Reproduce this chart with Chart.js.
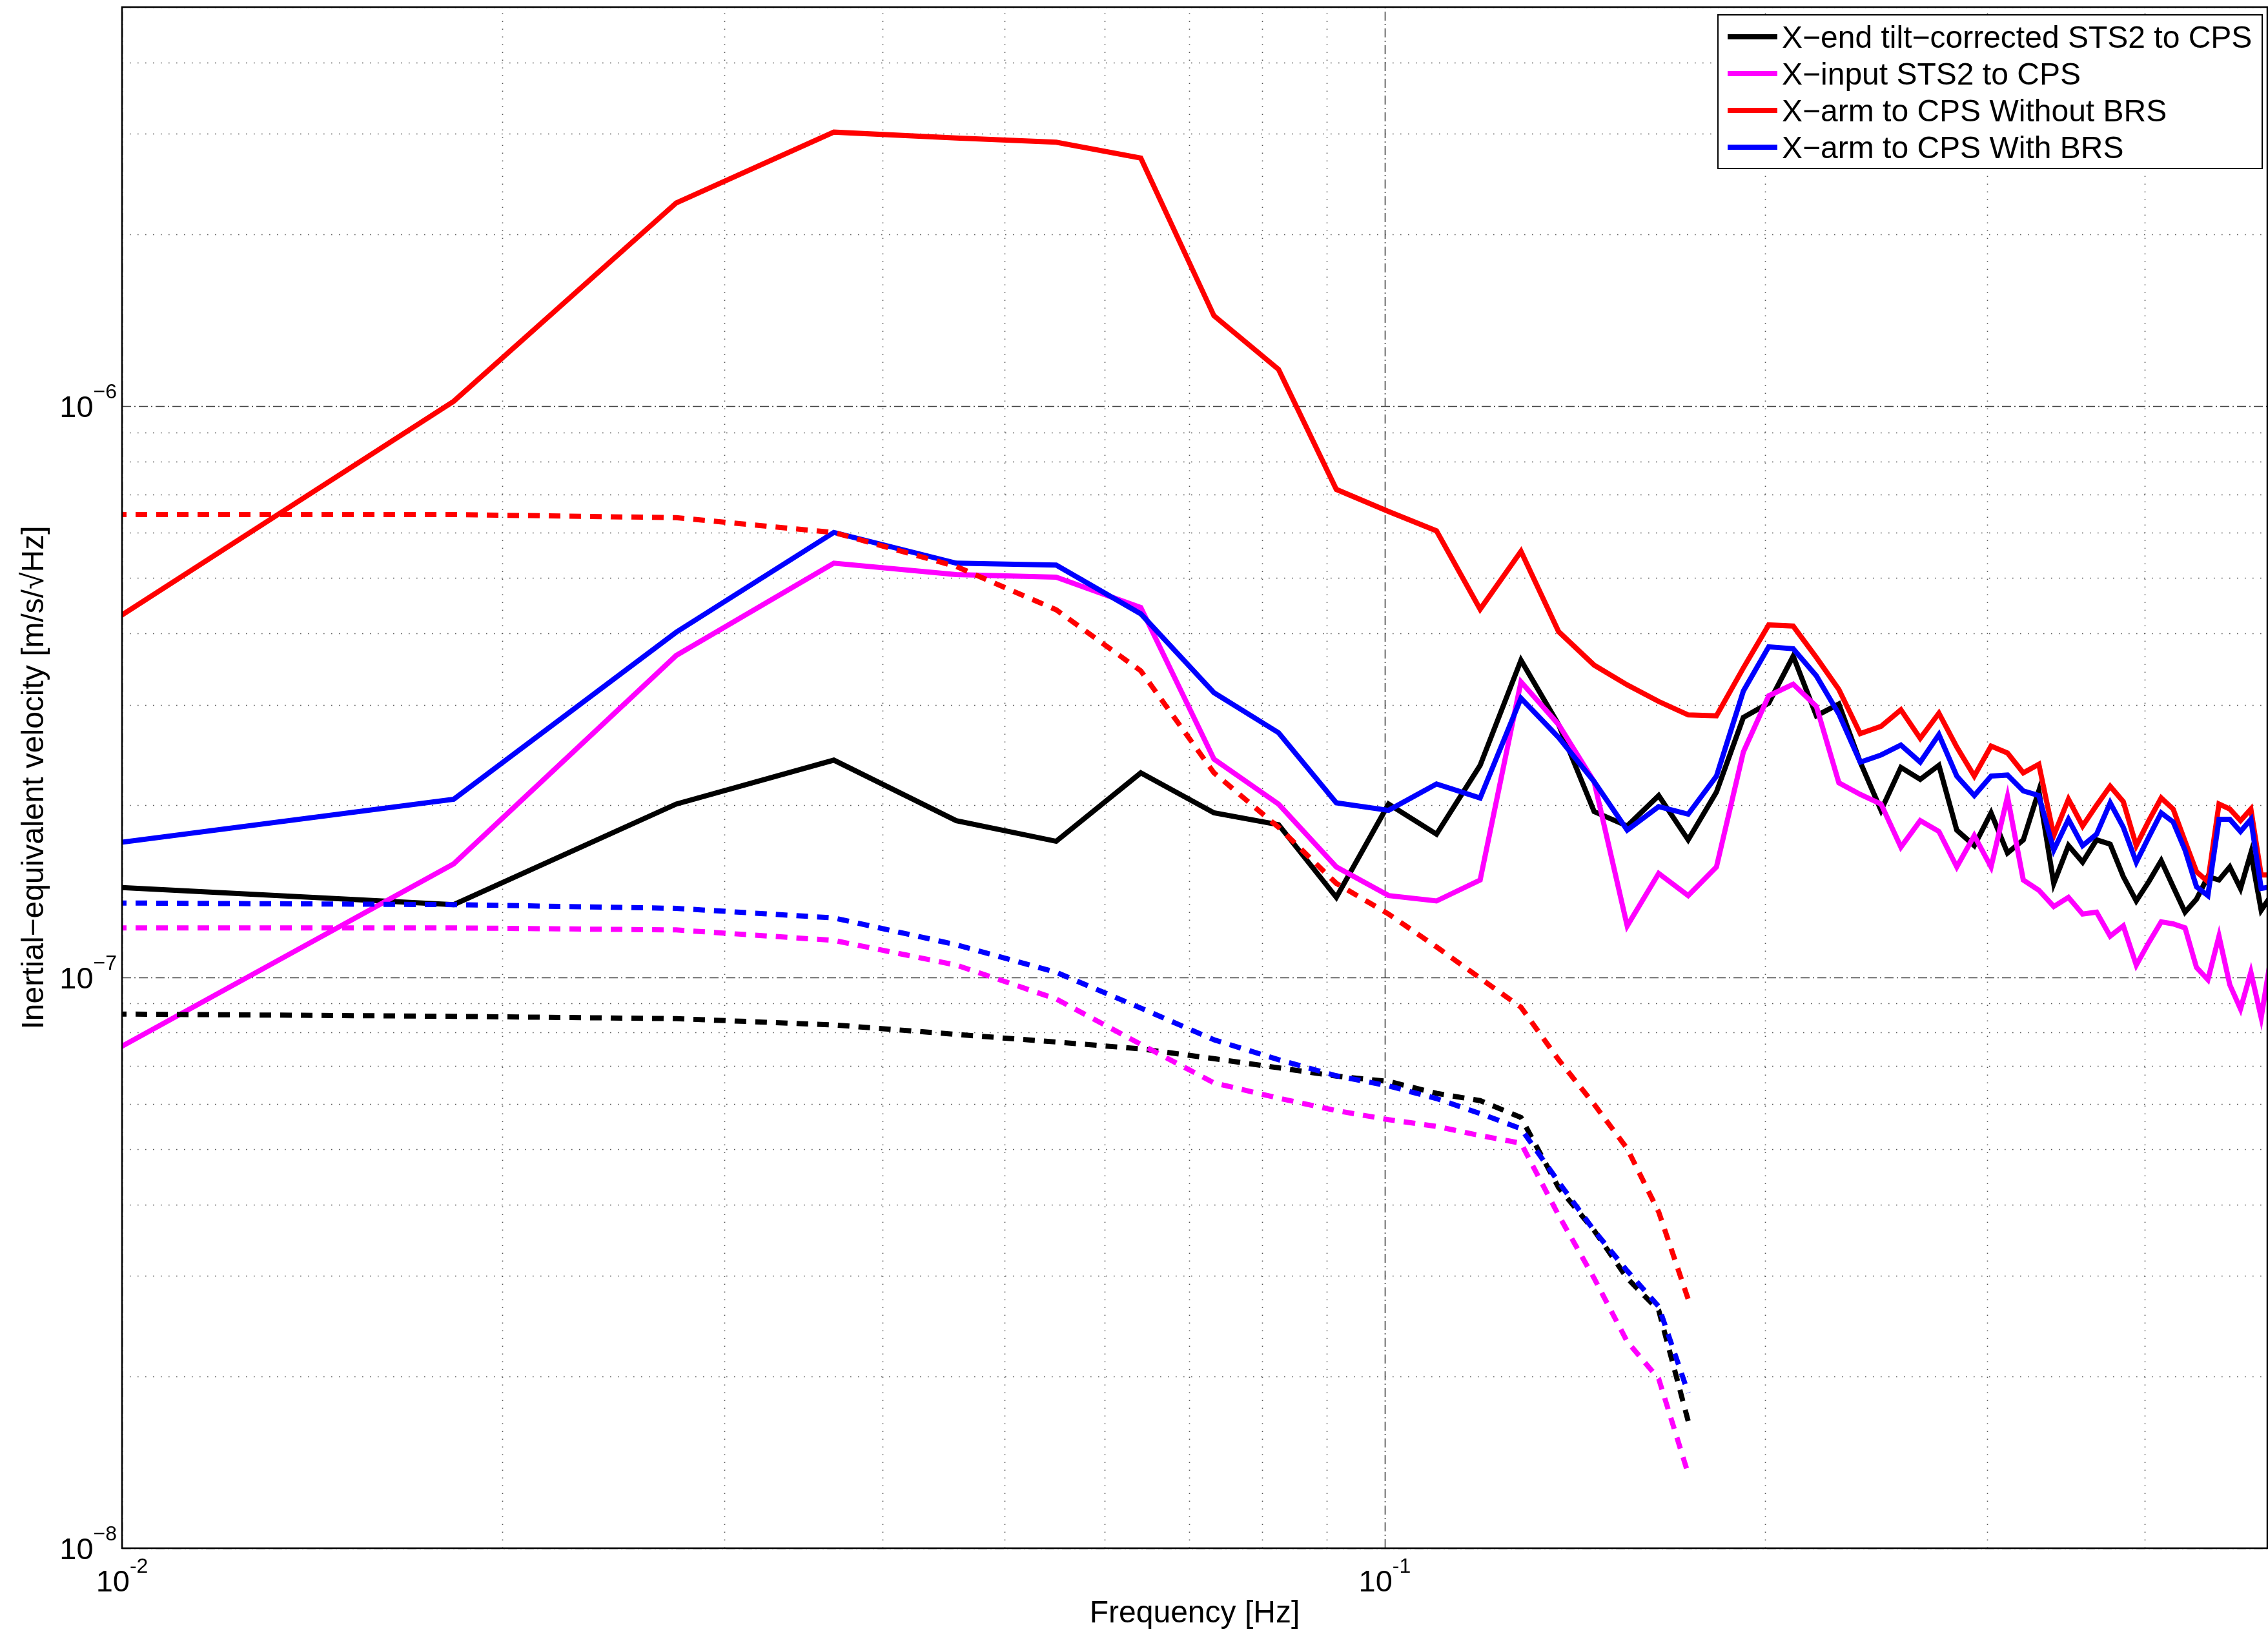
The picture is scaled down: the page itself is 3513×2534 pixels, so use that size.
<!DOCTYPE html>
<html lang="en">
<head>
  <meta charset="UTF-8" />
  <title>Inertial-equivalent velocity</title>
  <script src="https://cdn.jsdelivr.net/npm/chart.js"></script>
  <style>
    html, body { margin: 0; padding: 0; background: #ffffff; }
    #wrap { width: 3513px; height: 2534px; }
  </style>
</head>
<body>
  <div id="wrap">
    <canvas id="psdChart" width="3513" height="2534"></canvas>
  </div>

<script>
  // frequency bins [Hz]
  const freqs = [0.009155, 0.01831, 0.02747, 0.03662, 0.04578, 0.05493, 0.06409, 0.07324, 0.0824, 0.09155,
    0.1007, 0.1099, 0.119, 0.1282, 0.1373, 0.1465, 0.1556, 0.1648, 0.1739, 0.1831,
    0.1923, 0.2014, 0.2106, 0.2197, 0.2289, 0.238, 0.2472, 0.2563, 0.2655, 0.2747,
    0.2838, 0.293, 0.3021, 0.3113, 0.3204, 0.3296, 0.3387, 0.3479, 0.357, 0.3662,
    0.3754, 0.3845, 0.3937, 0.4028, 0.412, 0.4211, 0.4303, 0.4394, 0.4486, 0.4578,
    0.4669, 0.4761, 0.4852, 0.4944, 0.5035];

  // solid lines (measured) [m/s/rtHz]
  const endTiltSolid = [1.45e-7, 1.34e-7, 2.01e-7, 2.40e-7, 1.88e-7, 1.73e-7, 2.28e-7, 1.94e-7, 1.85e-7, 1.38e-7,
    2.01e-7, 1.78e-7, 2.35e-7, 3.59e-7, 2.77e-7, 1.95e-7, 1.84e-7, 2.08e-7, 1.74e-7, 2.11e-7,
    2.85e-7, 3.02e-7, 3.65e-7, 2.87e-7, 3.01e-7, 2.38e-7, 1.96e-7, 2.33e-7, 2.22e-7, 2.35e-7,
    1.81e-7, 1.70e-7, 1.94e-7, 1.65e-7, 1.74e-7, 2.12e-7, 1.46e-7, 1.70e-7, 1.59e-7, 1.74e-7,
    1.71e-7, 1.50e-7, 1.36e-7, 1.47e-7, 1.60e-7, 1.44e-7, 1.30e-7, 1.37e-7, 1.50e-7, 1.48e-7,
    1.56e-7, 1.43e-7, 1.65e-7, 1.31e-7, 1.39e-7];
  const inputSolid = [6.80e-8, 1.58e-7, 3.66e-7, 5.31e-7, 5.07e-7, 5.02e-7, 4.44e-7, 2.41e-7, 2.01e-7, 1.56e-7,
    1.39e-7, 1.36e-7, 1.48e-7, 3.29e-7, 2.77e-7, 2.20e-7, 1.23e-7, 1.52e-7, 1.39e-7, 1.56e-7,
    2.48e-7, 3.11e-7, 3.26e-7, 2.98e-7, 2.19e-7, 2.09e-7, 2.01e-7, 1.69e-7, 1.88e-7, 1.80e-7,
    1.56e-7, 1.77e-7, 1.56e-7, 2.07e-7, 1.48e-7, 1.42e-7, 1.33e-7, 1.38e-7, 1.29e-7, 1.30e-7,
    1.18e-7, 1.23e-7, 1.05e-7, 1.15e-7, 1.25e-7, 1.24e-7, 1.22e-7, 1.04e-7, 9.9e-8, 1.18e-7,
    9.7e-8, 8.8e-8, 1.02e-7, 8.5e-8, 1.09e-7];
  const armNoBrsSolid = [3.80e-7, 1.02e-6, 2.27e-6, 3.02e-6, 2.95e-6, 2.90e-6, 2.72e-6, 1.44e-6, 1.16e-6, 7.15e-7,
    6.54e-7, 6.05e-7, 4.41e-7, 5.57e-7, 4.03e-7, 3.52e-7, 3.25e-7, 3.04e-7, 2.88e-7, 2.87e-7,
    3.48e-7, 4.14e-7, 4.12e-7, 3.63e-7, 3.19e-7, 2.67e-7, 2.75e-7, 2.94e-7, 2.62e-7, 2.90e-7,
    2.53e-7, 2.25e-7, 2.54e-7, 2.47e-7, 2.28e-7, 2.36e-7, 1.77e-7, 2.05e-7, 1.84e-7, 2.00e-7,
    2.16e-7, 2.03e-7, 1.70e-7, 1.88e-7, 2.06e-7, 1.97e-7, 1.73e-7, 1.53e-7, 1.47e-7, 2.01e-7,
    1.97e-7, 1.88e-7, 1.97e-7, 1.51e-7, 1.51e-7];
  const armBrsSolid = [1.68e-7, 2.05e-7, 4.02e-7, 6.01e-7, 5.31e-7, 5.27e-7, 4.33e-7, 3.15e-7, 2.68e-7, 2.02e-7,
    1.96e-7, 2.18e-7, 2.06e-7, 3.08e-7, 2.63e-7, 2.20e-7, 1.81e-7, 1.99e-7, 1.93e-7, 2.25e-7,
    3.17e-7, 3.79e-7, 3.76e-7, 3.37e-7, 2.89e-7, 2.38e-7, 2.45e-7, 2.55e-7, 2.38e-7, 2.66e-7,
    2.25e-7, 2.08e-7, 2.25e-7, 2.26e-7, 2.12e-7, 2.08e-7, 1.67e-7, 1.89e-7, 1.70e-7, 1.78e-7,
    2.02e-7, 1.83e-7, 1.59e-7, 1.76e-7, 1.94e-7, 1.87e-7, 1.67e-7, 1.44e-7, 1.39e-7, 1.89e-7,
    1.89e-7, 1.80e-7, 1.89e-7, 1.43e-7, 1.44e-7];

  // dashed lines (first 19 bins only)
  const endTiltDashed = [8.63e-8, 8.54e-8, 8.46e-8, 8.25e-8, 7.94e-8, 7.70e-8, 7.49e-8, 7.20e-8, 6.94e-8, 6.71e-8,
    6.57e-8, 6.26e-8, 6.08e-8, 5.68e-8, 4.28e-8, 3.60e-8, 2.97e-8, 2.61e-8, 1.67e-8];
  const inputDashed = [1.22e-7, 1.22e-7, 1.21e-7, 1.16e-7, 1.05e-7, 9.16e-8, 7.63e-8, 6.53e-8, 6.14e-8, 5.84e-8,
    5.63e-8, 5.48e-8, 5.28e-8, 5.12e-8, 3.83e-8, 2.97e-8, 2.30e-8, 1.98e-8, 1.35e-8];
  const armNoBrsDashed = [6.46e-7, 6.46e-7, 6.38e-7, 6.01e-7, 5.24e-7, 4.40e-7, 3.44e-7, 2.28e-7, 1.83e-7, 1.46e-7,
    1.29e-7, 1.13e-7, 9.96e-8, 8.86e-8, 7.17e-8, 5.99e-8, 5.01e-8, 3.88e-8, 2.73e-8];
  const armBrsDashed = [1.35e-7, 1.34e-7, 1.32e-7, 1.27e-7, 1.14e-7, 1.02e-7, 8.83e-8, 7.77e-8, 7.17e-8, 6.72e-8,
    6.45e-8, 6.13e-8, 5.77e-8, 5.43e-8, 4.38e-8, 3.60e-8, 3.06e-8, 2.65e-8, 1.87e-8];

  const legendLabels = [
    "X\u2212end tilt\u2212corrected STS2 to CPS",
    "X\u2212input STS2 to CPS",
    "X\u2212arm to CPS Without BRS",
    "X\u2212arm to CPS With BRS"
  ];
  const lineColors = ["#000000", "#ff00ff", "#ff0000", "#0000ff"];

  const xMajorTicks = [0.01, 0.1];
  const xMajorExp = ["-2", "-1"];
  const xMinorTicks = [0.02, 0.03, 0.04, 0.05, 0.06, 0.07, 0.08, 0.09, 0.2, 0.3, 0.4, 0.5];
  const yMajorTicks = [1e-8, 1e-7, 1e-6];
  const yMajorExp = ["\u22128", "\u22127", "\u22126"];
  const yMinorTicks = [2e-8, 3e-8, 4e-8, 5e-8, 6e-8, 7e-8, 8e-8, 9e-8,
    2e-7, 3e-7, 4e-7, 5e-7, 6e-7, 7e-7, 8e-7, 9e-7, 2e-6, 3e-6, 4e-6, 5e-6];

  const FONT = '"Liberation Sans", Arial, Helvetica, sans-serif';
  const LINE_W = 8;

  function toPoints(values) {
    return values.map((v, i) => ({ x: freqs[i], y: v }));
  }

  const solidSets = [endTiltSolid, inputSolid, armNoBrsSolid, armBrsSolid];
  const dashedSets = [endTiltDashed, inputDashed, armNoBrsDashed, armBrsDashed];

  const datasets = [];
  let plotIndex = 0;
  solidSets.forEach((vals, i) => {
    datasets.push({
      label: legendLabels[i],
      data: toPoints(vals),
      borderColor: lineColors[i],
      borderWidth: LINE_W,
      pointRadius: 0,
      tension: 0,
      clip: 0,
      order: 100 - plotIndex++
    });
  });
  dashedSets.forEach((vals, i) => {
    datasets.push({
      label: legendLabels[i] + " (dashed)",
      data: toPoints(vals),
      borderColor: lineColors[i],
      borderWidth: LINE_W,
      borderDash: [18, 14],
      borderCapStyle: "butt",
      pointRadius: 0,
      tension: 0,
      clip: 0,
      order: 100 - plotIndex++
    });
  });

  function drawGridLine(ctx, x1, y1, x2, y2, dash, color) {
    ctx.save();
    ctx.strokeStyle = color;
    ctx.lineWidth = 1.6;
    ctx.setLineDash(dash);
    ctx.beginPath();
    ctx.moveTo(x1, y1);
    ctx.lineTo(x2, y2);
    ctx.stroke();
    ctx.restore();
  }

  const matlabAxes = {
    id: "matlabAxes",
    beforeDatasetsDraw(chart) {
      const ctx = chart.ctx;
      const a = chart.chartArea;
      const xs = chart.scales.x, ys = chart.scales.y;

      xMinorTicks.forEach(v => {
        const px = Math.round(xs.getPixelForValue(v)) + 0.5;
        drawGridLine(ctx, px, a.bottom, px, a.top, [1.6, 10.4], "#555555");
      });
      yMinorTicks.forEach(v => {
        const py = Math.round(ys.getPixelForValue(v)) + 0.5;
        drawGridLine(ctx, a.left, py, a.right, py, [1.6, 10.4], "#555555");
      });
      xMajorTicks.forEach(v => {
        const px = Math.round(xs.getPixelForValue(v)) + 0.5;
        drawGridLine(ctx, px, a.bottom, px, a.top, [14, 5, 2, 5], "#444444");
      });
      yMajorTicks.forEach(v => {
        const py = Math.round(ys.getPixelForValue(v)) + 0.5;
        drawGridLine(ctx, a.left, py, a.right, py, [14, 5, 2, 5], "#444444");
      });
    },
    afterDatasetsDraw(chart) {
      const ctx = chart.ctx;
      const a = chart.chartArea;
      const xs = chart.scales.x, ys = chart.scales.y;

      // axes box
      ctx.save();
      ctx.strokeStyle = "#000000";
      ctx.lineWidth = 2.5;
      ctx.strokeRect(a.left, a.top, a.right - a.left, a.bottom - a.top);
      ctx.restore();

      ctx.save();
      ctx.fillStyle = "#000000";

      // y tick labels: 10^n
      yMajorTicks.forEach((v, i) => {
        const py = ys.getPixelForValue(v);
        ctx.font = "32px " + FONT;
        ctx.textAlign = "right";
        ctx.textBaseline = "alphabetic";
        const expW = ctx.measureText(yMajorExp[i]).width;
        ctx.fillText(yMajorExp[i], a.left - 8, py - 12);
        ctx.font = "47px " + FONT;
        ctx.fillText("10", a.left - 8 - expW, py + 17);
      });

      // x tick labels
      xMajorTicks.forEach((v, i) => {
        const px = xs.getPixelForValue(v);
        ctx.font = "47px " + FONT;
        const baseW = ctx.measureText("10").width;
        ctx.font = "32px " + FONT;
        const expW = ctx.measureText(xMajorExp[i]).width;
        const left = px - (baseW + expW) / 2;
        ctx.textAlign = "left";
        ctx.textBaseline = "alphabetic";
        ctx.font = "47px " + FONT;
        ctx.fillText("10", left, a.bottom + 67);
        ctx.font = "32px " + FONT;
        ctx.fillText(xMajorExp[i], left + baseW, a.bottom + 38);
      });

      // axis titles
      ctx.font = "48px " + FONT;
      ctx.textAlign = "center";
      ctx.textBaseline = "alphabetic";
      ctx.fillText("Frequency [Hz]", (a.left + a.right) / 2, a.bottom + 115);

      ctx.save();
      ctx.translate(67, (a.top + a.bottom) / 2);
      ctx.rotate(-Math.PI / 2);
      ctx.fillText("Inertial\u2212equivalent velocity [m/s/\u221AHz]", 0, 0);
      ctx.restore();

      // legend
      const boxL = 2661, boxT = a.top + 12, boxR = a.right - 8, boxB = boxT + 238;
      ctx.fillStyle = "#ffffff";
      ctx.fillRect(boxL, boxT, boxR - boxL, boxB - boxT);
      ctx.strokeStyle = "#000000";
      ctx.lineWidth = 2;
      ctx.strokeRect(boxL, boxT, boxR - boxL, boxB - boxT);

      legendLabels.forEach((label, i) => {
        const rowY = boxT + 34 + i * 57;
        ctx.strokeStyle = lineColors[i];
        ctx.lineWidth = LINE_W;
        ctx.setLineDash([]);
        ctx.beginPath();
        ctx.moveTo(boxL + 15, rowY);
        ctx.lineTo(boxL + 92, rowY);
        ctx.stroke();
        ctx.fillStyle = "#000000";
        ctx.font = "48px " + FONT;
        ctx.textAlign = "left";
        ctx.textBaseline = "alphabetic";
        ctx.fillText(label, boxL + 99, rowY + 17);
      });
      ctx.restore();
    }
  };

  new Chart(document.getElementById("psdChart"), {
    type: "line",
    data: { datasets },
    options: {
      responsive: false,
      devicePixelRatio: 1,
      animation: false,
      layout: { padding: { left: 189, right: 1, top: 11, bottom: 136 } },
      scales: {
        x: { type: "logarithmic", min: 0.01, max: 0.5, display: false },
        y: { type: "logarithmic", min: 1e-8, max: 5e-6, display: false }
      },
      plugins: {
        legend: { display: false },
        tooltip: { enabled: false }
      }
    },
    plugins: [matlabAxes]
  });
</script>
</body>
</html>
